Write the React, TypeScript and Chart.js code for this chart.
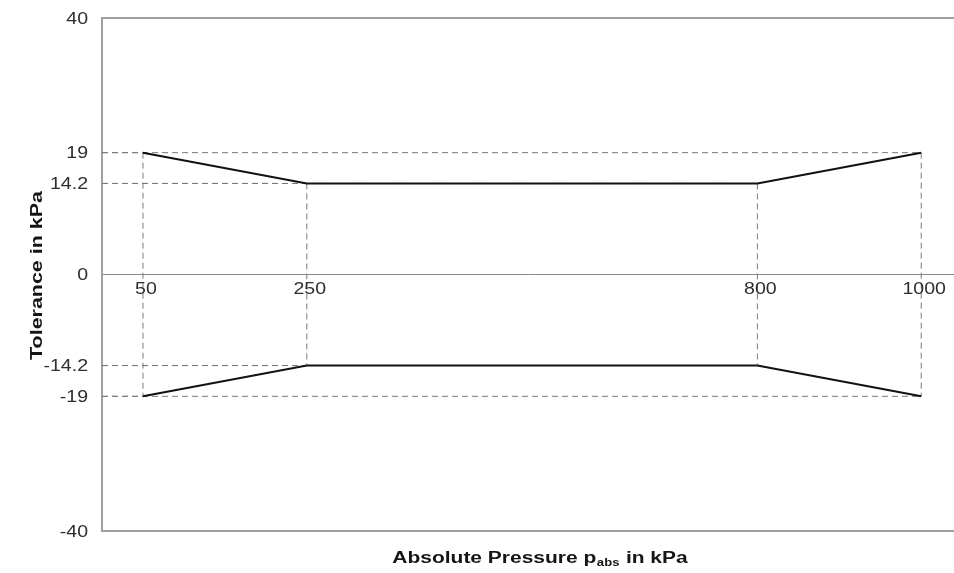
import React, { useEffect, useRef } from "react";
import { Chart, registerables } from "chart.js";

Chart.register(...registerables);

// Tolerance envelope over absolute pressure
const pressureKPa = [50, 250, 800, 1000];
const upperToleranceKPa = [19, 14.2, 14.2, 19];
const lowerToleranceKPa = [-19, -14.2, -14.2, -19];

// Axis ranges and labelled ticks
const pressureRange = [0, 1040];
const toleranceRange = [-40, 40];
const pressureTicks = [50, 250, 800, 1000];
const toleranceTicks = [40, 19, 14.2, 0, -14.2, -19, -40];

const SANS = '"Liberation Sans", Arial, Helvetica, sans-serif';
const TICK_FONT = 17;
const TEXT_STRETCH = 1.15;
const TITLE_FONT = 16;
const TITLE_STRETCH = 1.31;

type Pt = { x: number; y: number };

const envelope = (ys: number[]): Pt[] => pressureKPa.map((x, i) => ({ x, y: ys[i] }));

// Dashed reference lines: from each corner to the tolerance axis and across to the mirrored corner
const guideLines = (): Pt[][] => {
  const lines: Pt[][] = [];
  pressureKPa.forEach((p, i) => {
    const hi = upperToleranceKPa[i];
    const lo = lowerToleranceKPa[i];
    lines.push([{ x: p, y: hi }, { x: p, y: lo }]);
    lines.push([{ x: pressureRange[0], y: hi }, { x: p, y: hi }]);
    lines.push([{ x: pressureRange[0], y: lo }, { x: p, y: lo }]);
  });
  return lines;
};

function stretchedText(
  ctx: CanvasRenderingContext2D,
  text: string,
  x: number,
  y: number,
  sx: number,
  align: CanvasTextAlign
) {
  ctx.save();
  ctx.translate(x, y);
  ctx.scale(sx, 1);
  ctx.textAlign = align;
  ctx.fillText(text, 0, 0);
  ctx.restore();
}

const labelPlugin = {
  id: "toleranceLabels",
  afterDraw(chart: any) {
    const { ctx, chartArea: area, scales } = chart;
    const xs = scales.x;
    const ys = scales.y;
    ctx.save();

    // tick labels
    ctx.font = `${TICK_FONT}px ${SANS}`;
    ctx.fillStyle = "#2e2e2e";
    ctx.textBaseline = "middle";
    toleranceTicks.forEach((v) => {
      stretchedText(ctx, String(v), area.left - 14, ys.getPixelForValue(v) + 1, TEXT_STRETCH, "right");
    });
    const zeroY = ys.getPixelForValue(0);
    pressureTicks.forEach((v) => {
      stretchedText(ctx, String(v), xs.getPixelForValue(v) + 3, zeroY + 15, TEXT_STRETCH, "center");
    });

    // x axis title with subscript
    ctx.fillStyle = "#151515";
    ctx.textBaseline = "alphabetic";
    ctx.textAlign = "left";
    const main = "Absolute Pressure p";
    const sub = "abs";
    const tail = " in kPa";
    ctx.font = `bold ${TITLE_FONT}px ${SANS}`;
    const w1 = ctx.measureText(main).width;
    const w3 = ctx.measureText(tail).width;
    ctx.font = `bold 10px ${SANS}`;
    const w2 = ctx.measureText(sub).width + 1;
    const total = (w1 + w2 + w3) * TITLE_STRETCH;
    const cx = (area.left + area.right) / 2 + 12;
    const baseY = area.bottom + 32;
    ctx.save();
    ctx.translate(cx - total / 2, baseY);
    ctx.scale(TITLE_STRETCH, 1);
    ctx.font = `bold ${TITLE_FONT}px ${SANS}`;
    ctx.fillText(main, 0, 0);
    ctx.font = `bold 10px ${SANS}`;
    ctx.fillText(sub, w1 + 0.5, 3);
    ctx.font = `bold ${TITLE_FONT}px ${SANS}`;
    ctx.fillText(tail, w1 + w2, 0);
    ctx.restore();

    // y axis title
    ctx.save();
    ctx.translate(38, (area.top + area.bottom) / 2 + 1);
    ctx.rotate(-Math.PI / 2);
    ctx.scale(TITLE_STRETCH + 0.03, 1);
    ctx.font = `bold ${TITLE_FONT}px ${SANS}`;
    ctx.textAlign = "center";
    ctx.textBaseline = "middle";
    ctx.fillText("Tolerance in kPa", 0, 0);
    ctx.restore();

    ctx.restore();
  },
};

export default function App() {
  const canvasRef = useRef<HTMLCanvasElement | null>(null);

  useEffect(() => {
    const canvas = canvasRef.current;
    if (!canvas) return;

    const solid = {
      type: "line" as const,
      borderColor: "#111111",
      borderWidth: 2,
      pointRadius: 0,
      fill: false,
      tension: 0,
    };
    const dashed = {
      type: "line" as const,
      borderColor: "#7a7a7a",
      borderWidth: 1,
      borderDash: [6, 4],
      pointRadius: 0,
      fill: false,
      tension: 0,
    };

    const chart = new Chart(canvas, {
      type: "line",
      data: {
        datasets: [
          { ...solid, label: "upper", data: envelope(upperToleranceKPa) },
          { ...solid, label: "lower", data: envelope(lowerToleranceKPa) },
          ...guideLines().map((pts, i) => ({ ...dashed, label: `guide${i}`, data: pts })),
        ],
      },
      options: {
        animation: false,
        responsive: true,
        maintainAspectRatio: false,
        layout: { padding: { left: 0, top: 18, right: 0, bottom: 42 } },
        plugins: {
          legend: { display: false },
          tooltip: { enabled: false },
        },
        events: [],
        scales: {
          x: {
            type: "linear",
            min: pressureRange[0],
            max: pressureRange[1],
            position: { y: 0 } as any,
            grid: { display: false },
            ticks: { display: false },
            border: { display: true, color: "#8a8a8a", width: 1 },
          },
          y: {
            type: "linear",
            min: toleranceRange[0],
            max: toleranceRange[1],
            afterBuildTicks: (scale: any) => {
              scale.ticks = toleranceTicks.map((value) => ({ value }));
            },
            afterFit: (scale: any) => {
              scale.width = 102;
            },
            ticks: { display: false },
            grid: {
              drawTicks: false,
              lineWidth: 2,
              color: (c: any) =>
                c.tick && Math.abs(c.tick.value) === toleranceRange[1] ? "#a0a0a0" : "rgba(0,0,0,0)",
            },
            border: { display: true, color: "#a0a0a0", width: 2 },
          },
        },
      },
      plugins: [labelPlugin],
    });

    return () => chart.destroy();
  }, []);

  return (
    <div
      style={{
        position: "absolute",
        left: 0,
        top: 0,
        width: 954,
        height: 573,
        background: "#ffffff",
      }}
    >
      <canvas ref={canvasRef} />
    </div>
  );
}
